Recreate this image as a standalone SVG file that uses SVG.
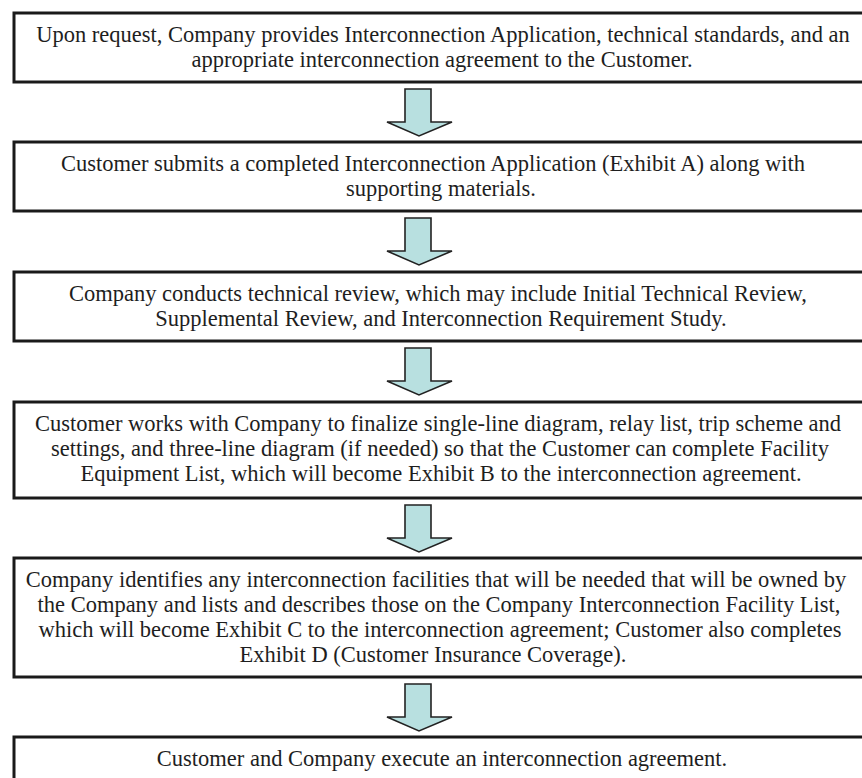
<svg xmlns="http://www.w3.org/2000/svg" width="862" height="778" viewBox="0 0 862 778">
<style>
.box{fill:#fff;stroke:#1a1a1a;stroke-width:3}
.t{font-family:"Liberation Serif","Times New Roman",serif;font-size:22.5px;fill:#1e1e1e;text-anchor:middle}
.arr{fill:#b8e0e0;stroke:#222;stroke-width:1.6;stroke-linejoin:miter}
</style>
<rect width="862" height="778" fill="#fff"/>
<g id="connectors">
<path class="arr" d="M405,89 H431 V122 H452 L419,136 L387,122 H405 Z"/>
<path class="arr" d="M405,218 H431 V251 H452 L419,265 L387,251 H405 Z"/>
<path class="arr" d="M405,348 H431 V381 H452 L419,395 L387,381 H405 Z"/>
<path class="arr" d="M405,505 H431 V538 H452 L419,552 L387,538 H405 Z"/>
<path class="arr" d="M405,684 H431 V717 H452 L419,731 L387,717 H405 Z"/>
</g>
<g id="n1"><rect class="box" x="14" y="13" width="860" height="69"/>
<text class="t" x="443" y="42">Upon request, Company provides Interconnection Application, technical standards, and an</text>
<text class="t" x="442" y="67">appropriate interconnection agreement to the Customer.</text></g>
<g id="n2"><rect class="box" x="14" y="142" width="860" height="69"/>
<text class="t" x="433" y="171">Customer submits a completed Interconnection Application (Exhibit A) along with</text>
<text class="t" x="441" y="196">supporting materials.</text></g>
<g id="n3"><rect class="box" x="14" y="272" width="860" height="69"/>
<text class="t" x="438" y="301">Company conducts technical review, which may include Initial Technical Review,</text>
<text class="t" x="441" y="326">Supplemental Review, and Interconnection Requirement Study.</text></g>
<g id="n4"><rect class="box" x="14" y="402" width="860" height="96"/>
<text class="t" x="438" y="431">Customer works with Company to finalize single-line diagram, relay list, trip scheme and</text>
<text class="t" x="440" y="456">settings, and three-line diagram (if needed) so that the Customer can complete Facility</text>
<text class="t" x="441" y="481">Equipment List, which will become Exhibit B to the interconnection agreement.</text></g>
<g id="n5"><rect class="box" x="14" y="558" width="860" height="119"/>
<text class="t" x="436" y="587">Company identifies any interconnection facilities that will be needed that will be owned by</text>
<text class="t" x="439" y="612">the Company and lists and describes those on the Company Interconnection Facility List,</text>
<text class="t" x="440" y="637">which will become Exhibit C to the interconnection agreement; Customer also completes</text>
<text class="t" x="433" y="662">Exhibit D (Customer Insurance Coverage).</text></g>
<g id="n6"><rect class="box" x="14" y="737" width="860" height="80"/>
<text class="t" x="442" y="766">Customer and Company execute an interconnection agreement.</text></g>
</svg>
